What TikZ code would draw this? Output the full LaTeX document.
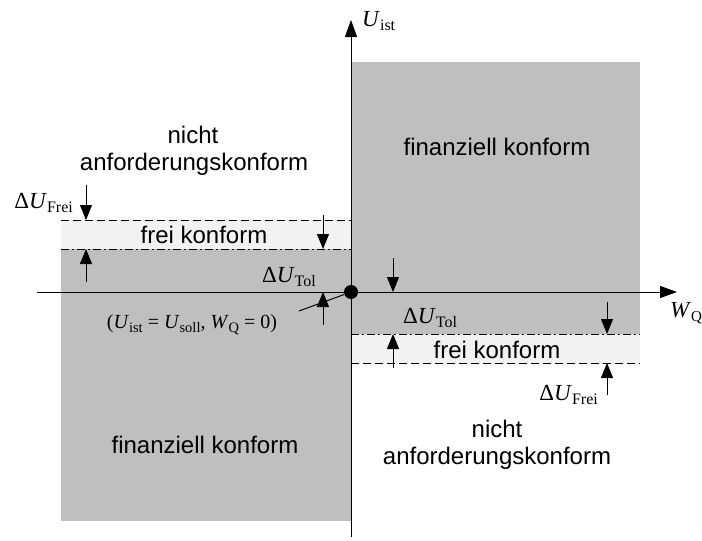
\documentclass[tikz,border=0pt]{standalone}
\usepackage{fontspec}
\setmainfont{Liberation Sans}
\newfontfamily\tms{Liberation Serif}
\usetikzlibrary{arrows.meta}
\definecolor{areagray}{HTML}{BFBFBF}
\definecolor{bandgray}{HTML}{F2F2F2}
\newcommand\subtx[2]{\raisebox{-4pt}{\fontsize{#1}{#1}\selectfont #2}}
\newcommand\dUlbl[1]{{\fontsize{23}{23}\selectfont\tms Δ\textit{U}\subtx{16}{#1}}}
\begin{document}
\begin{tikzpicture}[x=1pt,y=-1pt,
  areatext/.style={font=\fontsize{24}{24}\selectfont, inner sep=0pt, anchor=base},
  mlbl/.style={inner sep=0pt},
  dimarrow/.style={-{Triangle[length=15pt,width=12pt]}, line width=1pt},
  axisline/.style={-{Triangle[length=17pt,width=12pt]}, line width=1pt},
  bordash/.style={dash pattern=on 8pt off 4pt, line width=0.9pt},
  bordashdot/.style={dash pattern=on 8pt off 3pt on 2pt off 3pt, line width=0.9pt}]
\useasboundingbox (0,0) rectangle (702,541);
% areas
\fill[areagray] (351,62) rectangle (640,334);
\fill[areagray] (61,249) rectangle (351,521);
\fill[bandgray] (61,220) rectangle (351,249);
\fill[bandgray] (351,334) rectangle (640,363);
% border lines
\coordinate (lda) at (61,220); \coordinate (ldb) at (351,220);
\coordinate (lca) at (61,249); \coordinate (lcb) at (351,249);
\coordinate (rca) at (351,334); \coordinate (rcb) at (640,334);
\coordinate (rda) at (351,363); \coordinate (rdb) at (640,363);
\draw[bordash] (lda) -- (ldb);
\draw[bordashdot] (lca) -- (lcb);
\draw[bordashdot] (rca) -- (rcb);
\draw[bordash] (rda) -- (rdb);
% axes
\coordinate (xs) at (37,292); \coordinate (xe) at (677,292);
\coordinate (ys) at (351,537); \coordinate (ye) at (351,20);
\draw[axisline] (xs) -- (xe);
\draw[axisline] (ys) -- (ye);
\node[mlbl, anchor=base west] (uist) at (362,26) {\fontsize{23}{23}\selectfont\tms\textit{U}\subtx{16}{ist}};
\node[mlbl, anchor=base west] (wq) at (670,317) {\fontsize{23}{23}\selectfont\tms\textit{W}\subtx{15}{Q}};
% origin
\node[circle, fill=black, inner sep=0pt, minimum size=14pt] (origin) at (351,292) {};
\node[mlbl, anchor=base] (ptlbl) at (192,328) {\fontsize{20}{20}\selectfont\tms (\textit{U}\subtx{14.5}{ist} = \textit{U}\subtx{14.5}{soll}, \textit{W}\subtx{14.5}{Q} = 0)};
\coordinate (lead) at (299,311);
\draw[line width=1pt] (lead) -- (origin);
% left dU_Frei
\coordinate (lf1) at (86,185); \coordinate (lf1t) at (86,220);
\coordinate (lf2) at (86,282); \coordinate (lf2t) at (86,249);
\draw[dimarrow] (lf1) -- (lf1t);
\draw[dimarrow] (lf2) -- (lf2t);
\node[mlbl, anchor=base east] (lfl) at (73,208) {\dUlbl{Frei}};
% left dU_Tol
\coordinate (lt1) at (323,215); \coordinate (lt1t) at (323,249);
\coordinate (lt2) at (323,325); \coordinate (lt2t) at (323,292);
\draw[dimarrow] (lt1) -- (lt1t);
\draw[dimarrow] (lt2) -- (lt2t);
\node[mlbl, anchor=base east] (ltl) at (316,282) {\dUlbl{Tol}};
% right dU_Tol
\coordinate (rt1) at (393,258); \coordinate (rt1t) at (393,292);
\coordinate (rt2) at (393,368); \coordinate (rt2t) at (393,334);
\draw[dimarrow] (rt1) -- (rt1t);
\draw[dimarrow] (rt2) -- (rt2t);
\node[mlbl, anchor=base west] (rtl) at (403,323) {\dUlbl{Tol}};
% right dU_Frei
\coordinate (rf1) at (607,302); \coordinate (rf1t) at (607,334);
\coordinate (rf2) at (607,395); \coordinate (rf2t) at (607,363);
\draw[dimarrow] (rf1) -- (rf1t);
\draw[dimarrow] (rf2) -- (rf2t);
\node[mlbl, anchor=base east] (rfl) at (598,400) {\dUlbl{Frei}};
% area texts
\node[areatext] (nl1) at (193,143) {nicht};
\node[areatext] (nl2) at (194,170) {anforderungskonform};
\node[areatext] (fur) at (497,155) {finanziell konform};
\node[areatext] (fkl) at (204,243) {frei konform};
\node[areatext] (fkr) at (497,358) {frei konform};
\node[areatext] (nr1) at (497,437) {nicht};
\node[areatext] (nr2) at (497,464) {anforderungskonform};
\node[areatext] (fll) at (205,453) {finanziell konform};
\end{tikzpicture}
\end{document}
